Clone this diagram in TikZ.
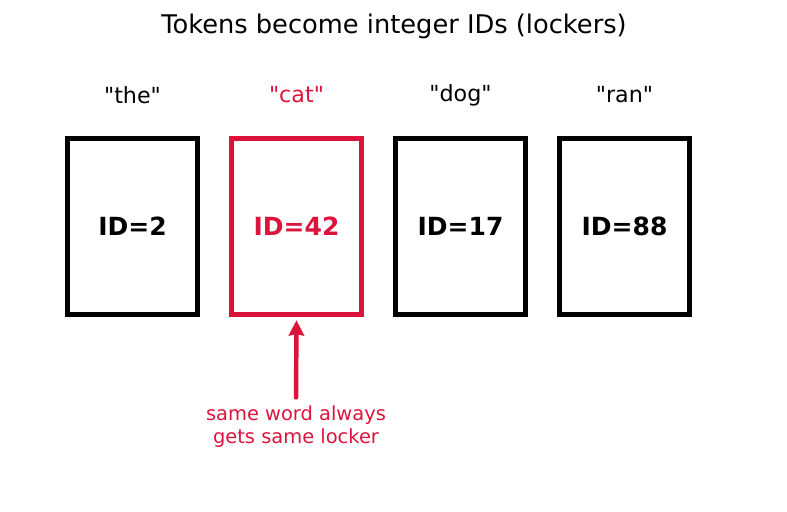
\documentclass[tikz,border=0pt]{standalone}
\usepackage{fontspec}
\setmainfont{DejaVu Sans}[Ligatures=TeXOff]
\usetikzlibrary{arrows.meta}
\usetikzlibrary{positioning}
\definecolor{lockred}{HTML}{DC143C}
\tikzset{locker/.style = {draw, line width=3.6pt, minimum width=94.3pt, minimum height=127.4pt,
                          inner sep=0, font=\fontsize{18}{21}\selectfont\bfseries}}
\tikzset{word/.style = {inner sep=0, font=\fontsize{16}{19}\selectfont}}

\begin{document}
\begin{tikzpicture}[x=0.72pt, y=-0.72pt]
      \useasboundingbox (0, 0) rectangle (787, 512);
      \node [font=\fontsize{18.5}{22}\selectfont] (title) at (394, 26) {Tokens become integer IDs (lockers)};

      \foreach \i/\x/\w/\n/\c in {1/132.5/the/2/black, 2/296.5/cat/42/lockred,
                                  3/460.5/dog/17/black, 4/624.5/ran/88/black} {
        \node [word, \c] (word\i) at (\x, 95) {"\w"};
        \node [locker, \c] (box\i) at (\x, 226.5) {ID=\n};
      }

      \node [lockred, align=center, inner sep=0, font=\fontsize{14}{16.6}\selectfont] (note) at (296, 427) {same word always\\gets same locker};

      \draw [-{Stealth[length=11pt, width=11pt, inset=1pt]}, lockred, line width=3.2pt, line cap=round,
             shorten <=6pt, shorten >=2pt] (note.north) -- (box2.south);
    \end{tikzpicture}
\end{document}
